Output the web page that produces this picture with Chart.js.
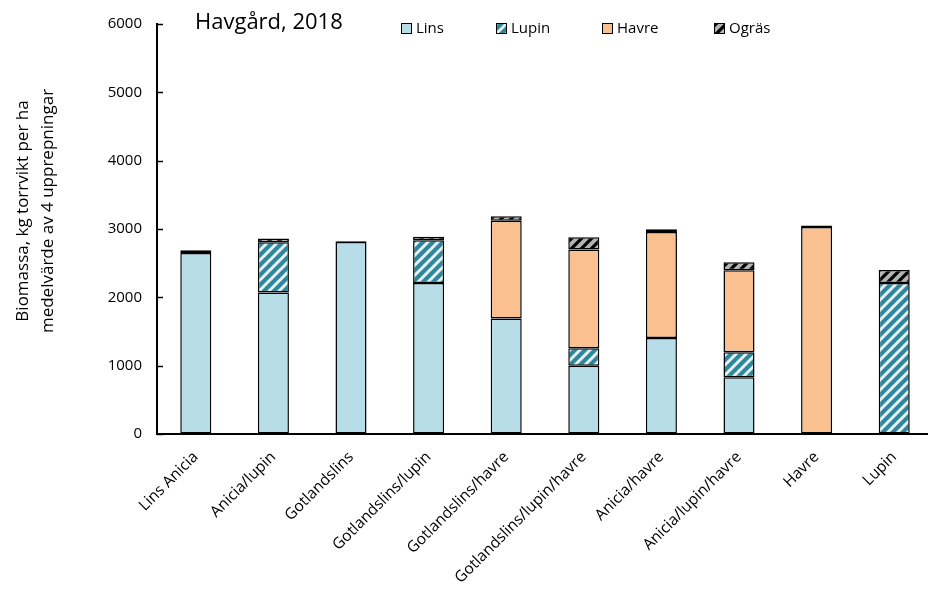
<!DOCTYPE html>
<html>
<head>
<meta charset="utf-8">
<script src="https://cdn.jsdelivr.net/npm/chart.js@4"></script>
<style>
    html, body { margin: 0; padding: 0; background: #fff; overflow: hidden; }
    #wrap { width: 928px; height: 595px; overflow: hidden; }
</style>
</head>
<body>
<div id="wrap"><canvas id="chart" width="936" height="595"></canvas></div>
<script>
// data
let categories = ["Lins Anicia", "Anicia/lupin", "Gotlandslins", "Gotlandslins/lupin", "Gotlandslins/havre",
    "Gotlandslins/lupin/havre", "Anicia/havre", "Anicia/lupin/havre", "Havre", "Lupin"];
let lins  = [2650, 2070, 2810, 2210, 1690, 1000, 1405, 830, null, null];
let lupin = [null, 735, null, 625, null, 255, null, 365, null, 2210];
let havre = [null, null, null, null, 1430, 1445, 1550, 1200, 3030, null];
let ogras = [40, 55, 10, 50, 65, 180, 40, 120, 20, 190];
let yTicks = [0, 1000, 2000, 3000, 4000, 5000, 6000];

let chartTitle = "Havgård, 2018";
let yTitle = ["Biomassa, kg torrvikt per ha", "medelvärde av 4 upprepningar"];
let font = "'Open Sans', sans-serif";

function stripes(bg, fg, size, lw) {
    let c = document.createElement("canvas");
    c.width = size;
    c.height = size;
    let g = c.getContext("2d");
    g.fillStyle = bg;
    g.fillRect(0, 0, size, size);
    g.strokeStyle = fg;
    g.lineWidth = lw;
    g.beginPath();
    g.moveTo(0, size); g.lineTo(size, 0);
    g.moveTo(-2, 2); g.lineTo(2, -2);
    g.moveTo(size - 2, size + 2); g.lineTo(size + 2, size - 2);
    g.stroke();
    return g.createPattern(c, "repeat");
}

let lupinFill = stripes("#31869b", "#e4f2f6", 10, 3);
let ogrFill = stripes("#b4b4b4", "#000000", 10, 3.2);

// legend, title, y title and inside tick marks
let extras = {
    id: "extras",
    afterDraw(chart) {
        let ctx = chart.ctx;
        let y = chart.scales.y;
        let area = chart.chartArea;
        ctx.save();
        ctx.strokeStyle = "#000";
        ctx.lineWidth = 1.5;
        yTicks.forEach(v => {
            let py = Math.round(y.getPixelForValue(v)) + 0.5;
            ctx.beginPath();
            ctx.moveTo(area.left, py);
            ctx.lineTo(area.left + 6, py);
            ctx.stroke();
        });

        ctx.fillStyle = "#000";
        ctx.font = "22px " + font;
        ctx.textBaseline = "middle";
        ctx.textAlign = "left";
        ctx.fillText(chartTitle, 195, 23);

        let lx = [401, 496, 602, 714];
        ctx.font = "15px " + font;
        chart.data.datasets.forEach((ds, i) => {
            ctx.fillStyle = ds.backgroundColor;
            ctx.fillRect(lx[i], 23, 11, 11);
            ctx.lineWidth = 1;
            ctx.strokeStyle = "#000";
            ctx.strokeRect(lx[i] + 0.5, 23.5, 10, 10);
            ctx.fillStyle = "#000";
            ctx.fillText(ds.label, lx[i] + 15, 29);
        });

        ctx.font = "17px " + font;
        ctx.textAlign = "center";
        ctx.translate(35, 211);
        ctx.rotate(-Math.PI / 2);
        ctx.fillText(yTitle[0], 0, -12);
        ctx.fillText(yTitle[1], 0, 13);
        ctx.restore();
    }
};

function dataset(label, data, fill) {
    return {
        label: label,
        data: data,
        backgroundColor: fill,
        borderColor: "#000",
        borderWidth: 1.5,
        borderSkipped: false,
        categoryPercentage: 1,
        barPercentage: 0.4
    };
}

new Chart(document.getElementById("chart"), {
    type: "bar",
    data: {
        labels: categories,
        datasets: [
            dataset("Lins", lins, "#b7dee8"),
            dataset("Lupin", lupin, lupinFill),
            dataset("Havre", havre, "#fac090"),
            dataset("Ogräs", ogras, ogrFill)
        ]
    },
    options: {
        responsive: false,
        animation: false,
        layout: { padding: { top: 19, right: 3, bottom: 0, left: 0 } },
        plugins: {
            legend: { display: false },
            tooltip: { enabled: false }
        },
        scales: {
            x: {
                stacked: true,
                afterCalculateLabelRotation: s => { s.labelRotation = 45; },
                afterFit: s => { s.height = 161; },
                grid: { drawOnChartArea: false, drawTicks: false },
                border: { color: "#000", width: 2 },
                ticks: {
                    color: "#000",
                    font: { family: font, size: 15.5 },
                    minRotation: 45,
                    maxRotation: 45,
                    padding: 14,
                    autoSkip: false
                }
            },
            y: {
                stacked: true,
                min: 0,
                max: 6000,
                afterFit: s => { s.width = 157; },
                grid: { drawOnChartArea: false, drawTicks: false },
                border: { color: "#000", width: 2 },
                ticks: {
                    stepSize: 1000,
                    color: "#000",
                    font: { family: font, size: 15 },
                    padding: 15,
                    callback: v => String(v)
                }
            }
        }
    },
    plugins: [extras]
});
</script>
</body>
</html>
